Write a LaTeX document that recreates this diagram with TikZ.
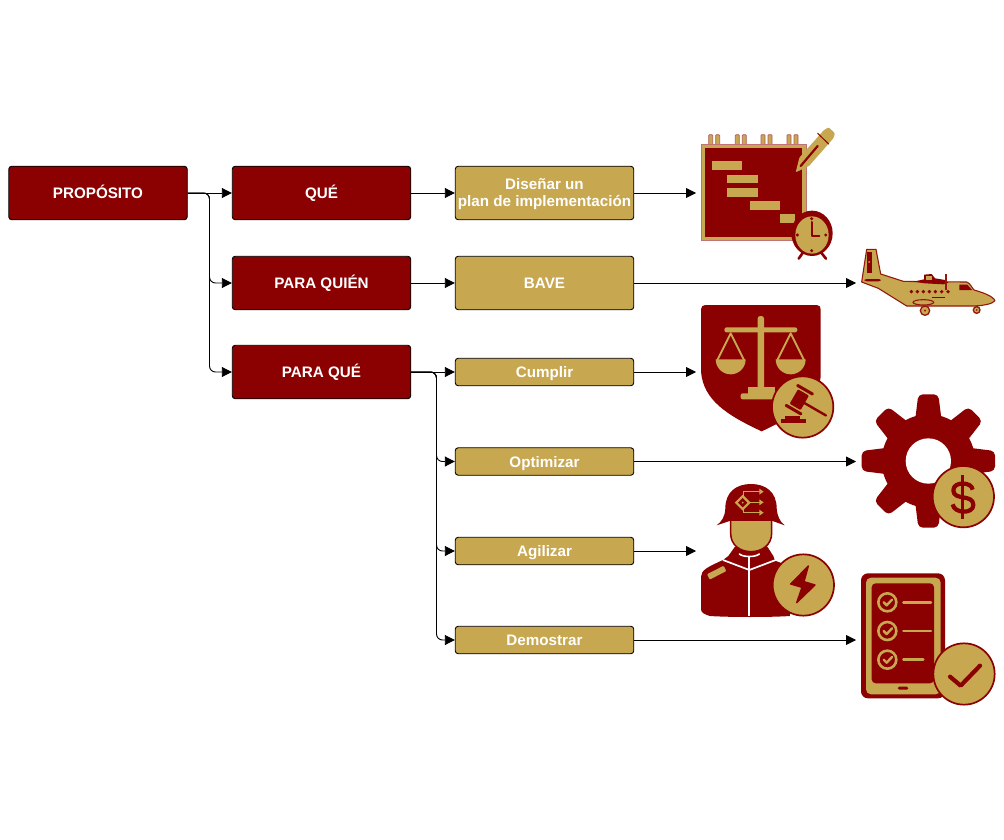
\documentclass[tikz,border=0pt]{standalone}
\usepackage{fontspec}
\setmainfont{Liberation Sans}
\usetikzlibrary{arrows.meta,calc}
\definecolor{wine}{HTML}{8B0000}
\definecolor{sand}{HTML}{C7A750}
\tikzset{
  x=1pt,y=-1pt,
  boxbase/.style={draw=black,line width=0.9pt,rounded corners=3pt,minimum width=178.5pt,inner sep=0pt,align=center,text=white,font=\bfseries\fontsize{15.2}{17}\selectfont},
  oneline/.style={text height=11pt,text depth=0pt},
  redbox/.style={boxbase,oneline,fill=wine,minimum height=53.5pt},
  goldtwo/.style={boxbase,fill=sand,minimum height=53.5pt},
  goldtall/.style={boxbase,oneline,fill=sand,minimum height=53.5pt},
  goldlow/.style={boxbase,oneline,fill=sand,minimum height=27.5pt},
  link/.style={draw=black,line width=0.9pt,-{Triangle[length=10pt,width=10pt]}},
  elbow/.style={link,rounded corners=6pt},
  icon/.style={x=0.33333pt,y=-0.33333pt},
  coin/.style={fill=sand,draw=wine,line width=1.7pt},
  goldline/.style={draw=sand,line cap=round,line join=round},
  redline/.style={draw=wine,line cap=round,line join=round},
}
\begin{document}
\begin{tikzpicture}
\useasboundingbox (0,0) rectangle (1004,840);
\fill[white] (0,0) rectangle (1004,840);

% --- Icons ---
% Gantt notebook with pencil and clock
\begin{scope}[shift={(690pt,-120pt)},icon]
  \foreach \q in {56,136,213,291}{
    \fill[sand,draw=wine!65!white,line width=0.7pt,rounded corners=0.8pt] (\q,44) rectangle +(12,32);
    \fill[sand,draw=wine!65!white,line width=0.7pt,rounded corners=0.8pt] (\q+21,44) rectangle +(12,32);
  }
  \fill[sand,draw=wine!55!white,line width=0.6pt] (33,72) rectangle (348,360);
  \fill[wine] (45,83) rectangle (337,350);
  \fill[sand] (67,124) rectangle (157,150);
  \fill[sand] (112,164) rectangle (203,190);
  \fill[sand] (112,203) rectangle (203,230);
  \fill[sand] (180,243) rectangle (270,269);
  \fill[sand] (270,282) rectangle (316,308);
  % pencil
  \fill[sand,rounded corners=1pt] (317,157) -- (328,113) -- (402,30) -- (416,22) -- (435,40) -- (430,55) -- (357,138) -- cycle;
  \draw[redline,line width=2.2pt] (332,138) -- (383,78);
  \draw[redline,line width=1pt] (383,40) -- (416,72);
  % clock
  \draw[wine,line width=2.6pt,line cap=round] (326,416) -- (340,396);
  \draw[wine,line width=2.6pt,line cap=round] (408,416) -- (392,396);
  \fill[wine] (366,340) ellipse [x radius=62,y radius=68];
  \fill[sand] (366,345) ellipse [x radius=50,y radius=56];
  \draw[redline,line width=2pt] (365,306) -- (365,347) -- (388,347);
  \fill[wine] (365,296) circle (5) (365,392) circle (5) (322,345) circle (5) (407,345) circle (5);
\end{scope}

% Aircraft
\begin{scope}[shift={(850pt,-240pt)},icon]
  \fill[sand,draw=wine!85!sand,line width=1.1pt,line join=round]
    (50,28) -- (78,28) -- (92,102) -- (160,124) -- (215,125) -- (350,126)
    .. controls (362,130) and (366,145) .. (372,150)
    .. controls (400,158) and (428,168) .. (435,182)
    .. controls (428,192) and (400,196) .. (380,198) -- (170,198) -- (85,145) -- (35,126) -- cycle;
  \fill[wine] (52,35) rectangle (65,100);
  \fill[sand] (57,66) circle (3);
  \fill[wine,rounded corners=2pt] (44,117) rectangle (92,124);
  \fill[wine] (328,134) -- (352,134) -- (366,150) -- (328,150) -- cycle;
  \foreach \q in {184,202,220,238,256,275,294}{\fill[wine] (\q,155) circle (5.5);}
  \draw[wine,line width=0.3pt] (245,170) -- (285,170);
  % engine and propeller
  \fill[wine] (190,125) -- (222,118) -- (222,104) -- (245,102) -- (255,115) -- (285,120) -- (295,128) -- (280,133) -- (225,130) -- cycle;
  \fill[sand] (228,109) rectangle (245,119);
  \draw[wine!85!sand,line width=1.1pt] (288,102) -- (288,150);
  % sponson and wheels
  \fill[sand,draw=wine!85!sand,line width=1.1pt] (220,187) ellipse [x radius=31,y radius=8];
  \fill[sand,draw=wine!85!sand,line width=1.3pt] (225,212) circle (14);
  \fill[wine] (225,212) circle (3);
  \draw[wine!85!sand,line width=1.3pt] (382,196) -- (382,202);
  \fill[sand,draw=wine!85!sand,line width=1.3pt] (380,210) circle (10);
  \fill[wine] (380,210) circle (2.5);
\end{scope}

% Shield with scales and gavel
\begin{scope}[shift={(690pt,-300pt)},icon]
  \fill[wine] (46,15) -- (380,15) .. controls (388,15) and (392,20) .. (392,28) -- (392,230)
    .. controls (385,300) and (320,345) .. (215,394)
    .. controls (110,345) and (40,300) .. (33,215) -- (33,28) .. controls (33,20) and (38,15) .. (46,15) -- cycle;
  \fill[sand,rounded corners=2.5pt] (203,48) rectangle (222,268);
  \fill[sand,rounded corners=2.3pt] (103,82) rectangle (322,97);
  \fill[sand] (175,262) rectangle (255,282);
  \fill[sand,rounded corners=2pt] (152,280) rectangle (260,298);
  \draw[goldline,line width=1.9pt] (82,180) -- (122,100) -- (162,180);
  \draw[goldline,line width=1.9pt] (262,180) -- (302,100) -- (342,180);
  \fill[sand] (77,178) arc [start angle=180,end angle=0,radius=45] -- cycle;
  \fill[sand] (257,178) arc [start angle=180,end angle=0,radius=45] -- cycle;
  \draw[coin] (338,321) circle (92);
  \begin{scope}[shift={(332*0.33333pt,-298*0.33333pt)},rotate=-30]
    \fill[wine,rounded corners=1pt] (-22,-22) rectangle (16,28);
    \fill[wine,rounded corners=1pt] (-32,-36) rectangle (26,-27);
    \fill[wine,rounded corners=1pt] (-32,33) rectangle (26,42);
    \draw[redline,line width=2.4pt] (16,4) -- (90,4);
  \end{scope}
  \fill[wine] (285,347) rectangle (330,358);
  \fill[wine] (272,358) rectangle (348,369);
\end{scope}

% Gear with dollar coin
\begin{scope}[shift={(850pt,-385pt)},icon]
  \foreach \a in {0,45,...,315}{
    \begin{scope}[shift={(235*0.33333pt,-228*0.33333pt)},rotate=\a]
      \fill[wine,rounded corners=4.5pt] (-40,-120) -- (-30,-200) -- (30,-200) -- (40,-120) -- cycle;
    \end{scope}
  }
  \fill[wine] (235,228) circle (140);
  \fill[white] (235,228) circle (68);
  \draw[coin] (340,335) circle (92);
  \draw[wine,line width=4.2pt,line join=round]
    (368,314) .. controls (366,290) and (310,288) .. (310,316)
    .. controls (310,348) and (370,326) .. (370,360)
    .. controls (370,388) and (312,386) .. (308,358);
  \draw[wine,line width=3.6pt] (338,270) -- (338,402);
\end{scope}

% Soldier with bolt coin
\begin{scope}[shift={(690pt,-480pt)},icon]
  \fill[wine] (33,290) .. controls (33,270) and (55,260) .. (99,240) -- (115,228) -- (135,200)
    -- (232,200) -- (250,228) -- (255,242) -- (290,255) -- (300,408)
    .. controls (240,412) and (120,412) .. (60,408)
    .. controls (45,404) and (33,398) .. (33,388) -- cycle;
  \fill[wine] (80,136) .. controls (95,125) and (105,110) .. (106,85)
    .. controls (106,35) and (140,12) .. (183,12)
    .. controls (226,12) and (260,35) .. (260,85)
    .. controls (262,110) and (270,125) .. (284,136) -- (245,122) -- (122,122) -- cycle;
  \fill[sand,draw=wine,line width=1.5pt] (122,120) -- (245,120) -- (245,160) .. controls (245,195) and (215,215) .. (183,215)
    .. controls (150,215) and (122,195) .. (122,160) -- cycle;
  \draw[white,line width=1.7pt] (178,408) -- (178,232);
  \draw[white,line width=1.7pt,line join=round] (99,240) -- (178,270) -- (257,240);
  \draw[white,line width=1.6pt,line cap=round] (148,222) .. controls (160,232) and (196,232) .. (208,222);
  \fill[sand,rotate around={27:(80,278)},rounded corners=1pt] (52,269) rectangle (108,287);
  \fill[sand] (158,44) -- (182,68) -- (158,92) -- (134,68) -- cycle;
  \fill[wine] (158,54) -- (172,68) -- (158,82) -- (144,68) -- cycle;
  \fill[sand] (158,68) circle (3);
  \draw[sand,line width=1.5pt] (160,48) -- (160,35) -- (210,35);
  \draw[sand,line width=1.5pt] (180,67) -- (210,67);
  \draw[sand,line width=1.5pt] (160,88) -- (160,98) -- (210,98);
  \fill[sand] (221,35) -- (208,26) -- (208,44) -- cycle;
  \fill[sand] (221,67) -- (208,58) -- (208,76) -- cycle;
  \fill[sand] (221,98) -- (208,89) -- (208,107) -- cycle;
  \draw[coin] (340,315) circle (92);
  \fill[wine,draw=wine,line width=1.4pt,line join=round] (355,258) -- (302,312) -- (336,322) -- (320,368) -- (375,315) -- (342,305) -- cycle;
\end{scope}

% Tablet with check coin
\begin{scope}[shift={(850pt,-565pt)},icon]
  \fill[wine,rounded corners=7pt] (33,25) rectangle (285,400);
  \fill[sand,rounded corners=5pt] (48,38) rectangle (272,388);
  \fill[wine,rounded corners=4pt] (65,55) rectangle (252,355);
  \fill[wine,rounded corners=1.5pt] (143,365) rectangle (175,374);
  \foreach \q in {112,198,284}{
    \draw[sand,line width=2.6pt] (112,\q) circle (27);
    \draw[goldline,line width=2.4pt] (101,\q) -- (110,\q+9) -- (126,\q-8);
    \draw[goldline,line width=2.4pt] (160,\q) -- ({\q==284 ? 220 : 243},\q);
  }
  \draw[coin] (342,327) circle (92);
  \draw[redline,line width=4.2pt] (300,335) -- (332,362) -- (390,302);
\end{scope}

% --- Boxes ---
\node[redbox]  (prop)   at (98,193)   {PROPÓSITO};
\node[redbox]  (que)    at (321.5,193) {QUÉ};
\node[redbox]  (quien)  at (321.5,283) {PARA QUIÉN};
\node[redbox]  (paraq)  at (321.5,372) {PARA QUÉ};
\node[goldtwo] (disena) at (544.5,193) {\rule{0pt}{14pt}Diseñar un\\plan de implementación};
\node[goldtall](bave)   at (544.5,283) {BAVE};
\node[goldlow] (cumplir) at (544.5,372) {Cumplir};
\node[goldlow] (optim)  at (544.5,461.5) {Optimizar};
\node[goldlow] (agil)   at (544.5,551) {Agilizar};
\node[goldlow] (demo)   at (544.5,640) {Demostrar};

% --- Connector ends ---
\coordinate (busA) at (209.5,193);
\coordinate (busB) at (436.5,372);
\coordinate (iconGantt) at (696,193);
\coordinate (iconPlane) at (856,283);
\coordinate (iconLaw) at (696,372);
\coordinate (iconGear) at (856,461.5);
\coordinate (iconSold) at (696,551);
\coordinate (iconTab) at (856,640);

% --- Connectors ---
\draw[link] (prop) -- (que);
\draw[elbow] (prop.east) -- (busA) |- (quien.west);
\draw[elbow] (prop.east) -- (busA) |- (paraq.west);
\draw[link] (que) -- (disena);
\draw[link] (quien) -- (bave);
\draw[link] (paraq) -- (cumplir);
\draw[elbow] (paraq.east) -- (busB) |- (optim.west);
\draw[elbow] (paraq.east) -- (busB) |- (agil.west);
\draw[elbow] (paraq.east) -- (busB) |- (demo.west);
\draw[link] (disena) -- (iconGantt);
\draw[link] (bave) -- (iconPlane);
\draw[link] (cumplir) -- (iconLaw);
\draw[link] (optim) -- (iconGear);
\draw[link] (agil) -- (iconSold);
\draw[link] (demo) -- (iconTab);
\end{tikzpicture}
\end{document}
